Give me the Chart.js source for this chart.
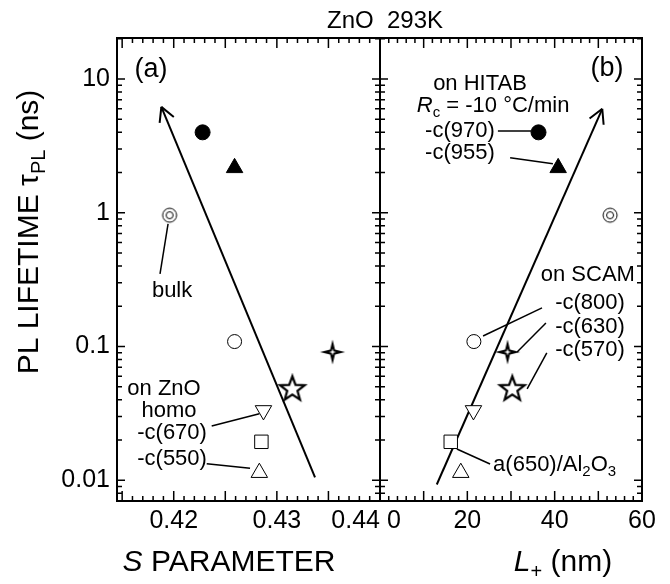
<!DOCTYPE html>
<html lang="en">
<head>
<meta charset="UTF-8" />
<title>ZnO 293K PL lifetime</title>
<script src="https://cdn.jsdelivr.net/npm/chart.js"></script>
<style>
  body { margin: 0; background: #fff; }
  #wrap { position: relative; width: 670px; height: 584px; }
  #wrap canvas { position: absolute; left: 0; top: 0; }
</style>
</head>
<body>
<div id="wrap">
  <canvas id="leftChart" width="670" height="584"></canvas>
  <canvas id="rightChart" width="670" height="584"></canvas>
</div>
<script>
// one entry per sample, same order in every array
const samples = ['-c(970) HITAB', '-c(955) HITAB', 'bulk', '-c(800) SCAM', '-c(630) SCAM', '-c(570) SCAM', '-c(670) homo', 'a(650)/Al2O3', '-c(550) homo'];
const markers = ['dot', 'tri', 'bulk', 'ring', 'sparkle', 'star', 'triDown', 'square', 'triUp'];
const tauPL  = [4.0, 2.17, 0.96, 0.109, 0.091, 0.048, 0.0333, 0.0194, 0.0114];
const sParam = [0.4228, 0.4259, 0.4196, 0.4259, 0.4354, 0.4315, 0.4287, 0.4285, 0.4283];
const lPlus  = [36.3, 40.8, 52.7, 21.5, 29.2, 30.3, 21.4, 16.2, 18.5];

// trend arrows (tail -> head)
const trendS = [0.4337, 0.4188];
const trendSTau = [0.0105, 6.2];
const trendL = [13.0, 50.9];
const trendLTau = [0.0093, 6.0];

// axis ticks
const tauTicks = [0.01, 0.1, 1, 10];
const sTicks = [0.42, 0.43, 0.44];
const lTicks = [0, 20, 40, 60];

const FONT = '"Liberation Sans", Arial, Helvetica, sans-serif';
Chart.defaults.font.family = FONT;
Chart.defaults.color = '#000';

// notes and leader lines (data coordinates)
const notesS = [
  { segs: [{ t: '(a)' }], x: 0.4178, y: 11.7, size: 27 },
  { segs: [{ t: 'bulk' }], x: 0.41984, y: 0.261 },
  { segs: [{ t: 'on ZnO' }], x: 0.41906, y: 0.0482 },
  { segs: [{ t: 'homo' }], x: 0.41954, y: 0.033 },
  { segs: [{ t: '-c(670)' }], x: 0.41984, y: 0.0226 },
  { segs: [{ t: '-c(550)' }], x: 0.41984, y: 0.01445 }
];
const leadersS = [
  [0.41945, 0.828, 0.41867, 0.35],
  [0.42368, 0.0255, 0.4283, 0.0315],
  [0.4232, 0.0133, 0.4274, 0.0123]
];
const notesL = [
  { segs: [{ t: '(b)' }], x: 52.0, y: 11.9, size: 27 },
  { segs: [{ t: 'on HITAB' }], x: 22.9, y: 9.2 },
  { segs: [{ t: 'R', it: true }, { t: 'c', sub: true }, { t: ' = -10 °C/min' }], x: 25.9, y: 6.29 },
  { segs: [{ t: '-c(970)' }], x: 18.3, y: 4.1 },
  { segs: [{ t: '-c(955)' }], x: 18.3, y: 2.81 },
  { segs: [{ t: 'on SCAM' }], x: 47.6, y: 0.344 },
  { segs: [{ t: '-c(800)' }], x: 48.1, y: 0.212 },
  { segs: [{ t: '-c(630)' }], x: 48.1, y: 0.140 },
  { segs: [{ t: '-c(570)' }], x: 48.1, y: 0.0944 },
  { segs: [{ t: 'a(650)/Al' }, { t: '2', sub: true }, { t: 'O' }, { t: '3', sub: true }], x: 25.9, y: 0.013, align: 'left' }
];
const leadersL = [
  [27.0, 4.1, 34.6, 4.1],
  [29.8, 2.58, 39.6, 2.33],
  [37.1, 0.1946, 23.6, 0.120],
  [38.0, 0.150, 31.4, 0.0912],
  [38.2, 0.0897, 33.7, 0.0482],
  [25.2, 0.01325, 17.6, 0.01715]
];

function makeImg(w, h, draw) {
  const c = document.createElement('canvas');
  c.width = w; c.height = h;
  const g = c.getContext('2d');
  g.translate(w / 2, h / 2);
  draw(g);
  return c;
}
function starPath(g, n, ro, ri) {
  g.beginPath();
  for (let i = 0; i < 2 * n; i++) {
    const r = i % 2 ? ri : ro;
    const a = -Math.PI / 2 + i * Math.PI / n;
    g.lineTo(r * Math.cos(a), r * Math.sin(a));
  }
  g.closePath();
}
const bulkImg = makeImg(18, 18, g => {
  g.strokeStyle = '#000'; g.lineWidth = 1;
  g.beginPath(); g.arc(0, 0, 7, 0, 2 * Math.PI); g.stroke();
  g.beginPath(); g.arc(0, 0, 3.5, 0, 2 * Math.PI); g.stroke();
});
const starImg = makeImg(32, 32, g => {
  starPath(g, 5, 13, 5.4);
  g.fillStyle = '#fff'; g.fill();
  g.strokeStyle = '#000'; g.lineWidth = 2.2; g.lineJoin = 'miter'; g.stroke();
});
const sparkleImg = makeImg(28, 28, g => {
  starPath(g, 4, 12.5, 3.4);
  g.fillStyle = '#000'; g.fill();
  starPath(g, 4, 3.5, 1.2);
  g.fillStyle = '#fff'; g.fill();
});

function markerProps(m) {
  const open = { pointBackgroundColor: '#fff', pointBorderColor: '#000', pointBorderWidth: 1 };
  const solid = { pointBackgroundColor: '#000', pointBorderColor: '#000', pointBorderWidth: 1 };
  switch (m) {
    case 'dot': return { pointStyle: 'circle', pointRadius: 7.5, ...solid };
    case 'tri': return { pointStyle: 'triangle', pointRadius: 9.5, ...solid };
    case 'ring': return { pointStyle: 'circle', pointRadius: 7, ...open };
    case 'triUp': return { pointStyle: 'triangle', pointRadius: 9.5, ...open };
    case 'triDown': return { pointStyle: 'triangle', pointRotation: 180, pointRadius: 9.5, ...open };
    case 'square': return { pointStyle: 'rect', pointRadius: 9.5, ...open };
    case 'bulk': return { pointStyle: bulkImg, pointRadius: 9 };
    case 'star': return { pointStyle: starImg, pointRadius: 14 };
    case 'sparkle': return { pointStyle: sparkleImg, pointRadius: 13 };
  }
}

function buildDatasets(xs, trendX, trendTau, leaders) {
  const sets = markers.map((m, i) => ({
    label: samples[i],
    data: [{ x: xs[i], y: tauPL[i] }],
    ...markerProps(m)
  }));
  sets.push({
    label: 'trend',
    data: trendX.map((v, i) => ({ x: v, y: trendTau[i] })),
    showLine: true, borderColor: '#000', borderWidth: 2, pointRadius: 0, arrow: true
  });
  leaders.forEach(l => sets.push({
    label: 'leader',
    data: [{ x: l[0], y: l[1] }, { x: l[2], y: l[3] }],
    showLine: true, borderColor: '#000', borderWidth: 1.5, pointRadius: 0
  }));
  return sets;
}

function drawRich(ctx, segs, x, y, size, align) {
  const parts = segs.map(s => {
    const fs = s.sub ? Math.round(size * 0.68) : size;
    const font = (s.it ? 'italic ' : '') + fs + 'px ' + FONT;
    ctx.font = font;
    return { t: s.t, font, w: ctx.measureText(s.t).width, dy: s.sub ? size * 0.32 : 0 };
  });
  const total = parts.reduce((a, p) => a + p.w, 0);
  let cx = align === 'left' ? x : align === 'right' ? x - total : x - total / 2;
  ctx.textAlign = 'left';
  ctx.textBaseline = 'middle';
  parts.forEach(p => { ctx.font = p.font; ctx.fillText(p.t, cx, y + p.dy); cx += p.w; });
}

// frame, inward ticks, arrow heads and notes
const frameTicks = {
  id: 'frameTicks',
  afterDatasetsDraw(chart, args, o) {
    const { ctx, chartArea: a } = chart;
    const x = chart.scales.x, y = chart.scales.y;
    ctx.save();
    ctx.strokeStyle = '#000';
    ctx.fillStyle = '#000';
    ctx.lineWidth = 1.5;
    ctx.beginPath();
    const n0 = Math.ceil(x.min / o.xMinor - 1e-6), n1 = Math.floor(x.max / o.xMinor + 1e-6);
    for (let k = n0; k <= n1; k++) {
      const v = k * o.xMinor;
      const r = v / o.xMajor;
      const len = Math.abs(r - Math.round(r)) < 1e-6 ? 10 : 5;
      const px = x.getPixelForValue(v);
      ctx.moveTo(px, a.bottom); ctx.lineTo(px, a.bottom - len);
      ctx.moveTo(px, a.top); ctx.lineTo(px, a.top + len);
    }
    for (let e = -3; e <= 2; e++) {
      for (let m = 1; m <= 9; m++) {
        const v = m * Math.pow(10, e);
        if (v < y.min || v > y.max) continue;
        const len = m === 1 ? 8 : 5;
        const py = y.getPixelForValue(v);
        ctx.moveTo(a.left, py); ctx.lineTo(a.left + len, py);
        ctx.moveTo(a.right, py); ctx.lineTo(a.right - len, py);
      }
    }
    ctx.stroke();
    ctx.lineWidth = 2;
    ctx.strokeRect(a.left, a.top, a.right - a.left, a.bottom - a.top);

    chart.data.datasets.forEach((ds, i) => {
      if (!ds.arrow) return;
      const pts = chart.getDatasetMeta(i).data;
      const p1 = pts[pts.length - 2], p2 = pts[pts.length - 1];
      const ang = Math.atan2(p1.y - p2.y, p1.x - p2.x);
      ctx.lineWidth = 2;
      ctx.beginPath();
      [-0.5, 0.5].forEach(d => {
        ctx.moveTo(p2.x, p2.y);
        ctx.lineTo(p2.x + 16 * Math.cos(ang + d), p2.y + 16 * Math.sin(ang + d));
      });
      ctx.stroke();
    });

    (o.notes || []).forEach(n => {
      drawRich(ctx, n.segs, x.getPixelForValue(n.x), y.getPixelForValue(n.y), n.size || 22, n.align || 'center');
    });
    ctx.restore();
  }
};

const pageText = {
  id: 'pageText',
  afterDraw(chart) {
    const ctx = chart.ctx;
    ctx.save();
    ctx.fillStyle = '#000';
    drawRich(ctx, [{ t: 'ZnO  293K' }], 385, 21, 24, 'center');
    drawRich(ctx, [{ t: 'S', it: true }, { t: ' PARAMETER' }], 229, 563, 30, 'center');
    drawRich(ctx, [{ t: 'L', it: true }, { t: '+', sub: true }, { t: ' (nm)' }], 563, 563, 30, 'center');
    ctx.translate(30, 232);
    ctx.rotate(-Math.PI / 2);
    drawRich(ctx, [{ t: 'PL LIFETIME τ' }, { t: 'PL', sub: true }, { t: ' (ns)' }], 0, 0, 30, 'center');
    ctx.restore();
  }
};

const yScale = (show) => ({
  type: 'logarithmic',
  position: 'left',
  min: 0.007,
  max: 20.3,
  display: show,
  grid: { display: false, drawTicks: false },
  border: { display: false },
  afterBuildTicks: s => { s.ticks = tauTicks.map(v => ({ value: v })); },
  afterFit: s => { s.width = show ? 117 : 0; },
  ticks: { font: { size: 25 }, padding: 7, callback: v => String(v) }
});

new Chart(document.getElementById('leftChart'), {
  type: 'scatter',
  data: { datasets: buildDatasets(sParam, trendS, trendSTau, leadersS) },
  options: {
    responsive: false,
    animation: false,
    events: [],
    layout: { padding: { left: 0, right: 290, top: 38, bottom: 0 } },
    scales: {
      x: {
        type: 'linear',
        min: 0.4145,
        max: 0.44,
        grid: { display: false, drawTicks: false },
        border: { display: false },
        afterBuildTicks: s => { s.ticks = [s.min, ...sTicks].map(v => ({ value: v })); },
        afterFit: s => { s.height = 83; },
        ticks: {
          font: { size: 25 }, padding: 5, align: 'inner', autoSkip: false, maxRotation: 0,
          callback: (v, i) => i === 0 ? '' : v.toFixed(2)
        }
      },
      y: yScale(true)
    },
    plugins: {
      legend: { display: false },
      tooltip: { enabled: false },
      frameTicks: { xMinor: 0.001, xMajor: 0.005, notes: notesS }
    }
  },
  plugins: [frameTicks, pageText]
});

new Chart(document.getElementById('rightChart'), {
  type: 'scatter',
  data: { datasets: buildDatasets(lPlus, trendL, trendLTau, leadersL) },
  options: {
    responsive: false,
    animation: false,
    events: [],
    layout: { padding: { left: 380, right: 28, top: 38, bottom: 0 } },
    scales: {
      x: {
        type: 'linear',
        min: 0,
        max: 60,
        grid: { display: false, drawTicks: false },
        border: { display: false },
        afterBuildTicks: s => { s.ticks = [...lTicks, s.max].map(v => ({ value: v })); },
        afterFit: s => { s.height = 83; },
        ticks: {
          font: { size: 25 }, padding: 5, align: 'inner', autoSkip: false, maxRotation: 0,
          callback: (v, i, t) => i === t.length - 1 ? '' : (i === 0 ? ' ' + v : String(v))
        }
      },
      y: yScale(false)
    },
    plugins: {
      legend: { display: false },
      tooltip: { enabled: false },
      frameTicks: { xMinor: 2, xMajor: 10, notes: notesL }
    }
  },
  plugins: [frameTicks]
});
</script>
</body>
</html>
